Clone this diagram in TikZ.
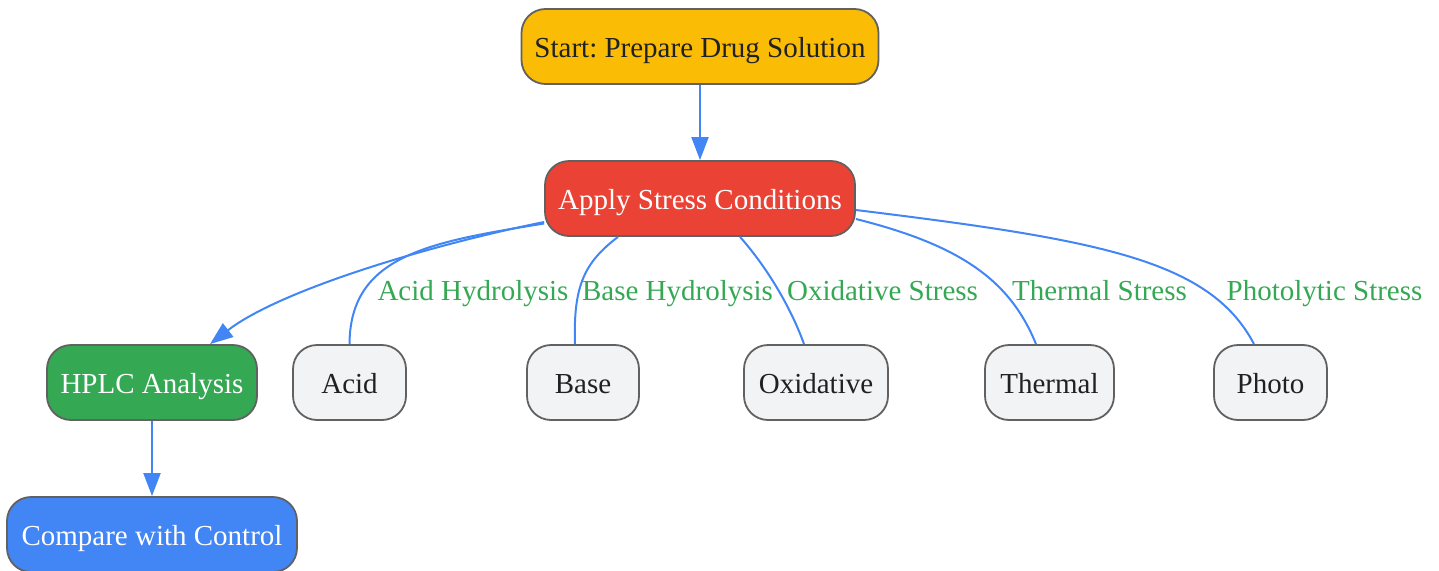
\documentclass[tikz,border=0pt]{standalone}
\usepackage{fontspec}
\setmainfont{Liberation Serif}
\frenchspacing
\usetikzlibrary{arrows.meta}
\definecolor{startfill}{HTML}{FBBC05}
\definecolor{stressfill}{HTML}{EA4335}
\definecolor{hplcfill}{HTML}{34A853}
\definecolor{comparefill}{HTML}{4285F4}
\definecolor{condfill}{HTML}{F1F3F4}
\definecolor{boxline}{HTML}{616161}
\definecolor{darktext}{HTML}{202124}
\definecolor{linkblue}{HTML}{4285F4}
\definecolor{lblgreen}{HTML}{34A853}
\begin{document}
\begin{tikzpicture}[x=1pt,y=-1pt,
  box/.style={draw=boxline, line width=1.8pt, rounded corners=24pt, minimum height=75pt,
    inner sep=0pt, text height=26pt, text depth=4.4pt, font=\fontsize{29}{34}\selectfont},
  cond/.style={box, fill=condfill, text=darktext},
  link/.style={draw=linkblue, line width=2pt},
  arr/.style={link, -{Triangle[length=23pt,width=17pt]}},
  lbl/.style={text=lblgreen, anchor=base, inner sep=0pt, font=\fontsize{29}{34}\selectfont}]
\useasboundingbox (0,0) rectangle (1439,570);
% main steps
\node[box, fill=startfill, text=darktext, minimum width=357pt] (start) at (700,46.5) {Start: Prepare Drug Solution};
\node[box, fill=stressfill, text=white, minimum width=310pt] (stress) at (700,198.5) {Apply Stress Conditions};
\node[box, fill=hplcfill, text=white, minimum width=210pt] (hplc) at (152,382.5) {HPLC Analysis};
\node[box, fill=comparefill, text=white, minimum width=290pt] (compare) at (152,534.5) {Compare with Control};
% stress conditions
\node[cond, minimum width=113pt] (acid) at (349.5,382.5) {Acid};
\node[cond, minimum width=112pt] (base) at (583,382.5) {Base};
\node[cond, minimum width=144pt] (oxid) at (816,382.5) {Oxidative};
\node[cond, minimum width=129pt] (thermal) at (1049.5,382.5) {Thermal};
\node[cond, minimum width=113pt] (photo) at (1270.5,382.5) {Photo};
% edge labels
\node[lbl] (lacid) at (473,300) {Acid Hydrolysis};
\node[lbl] (lbase) at (677.5,300) {Base Hydrolysis};
\node[lbl] (loxid) at (882.5,300) {Oxidative Stress};
\node[lbl] (lthermal) at (1099.5,300) {Thermal Stress};
\node[lbl] (lphoto) at (1324.5,300) {Photolytic Stress};
% connectors
\draw[arr] (start) -- (stress);
\draw[arr] ([yshift=-23.5pt]stress.west) .. controls (430,245) and (280,290) .. ([xshift=58pt]hplc.north);
\draw[link] ([yshift=-25pt]stress.west) .. controls (430,242) and (350,255) .. (acid.north);
\draw[link] ([xshift=-82pt]stress.south) .. controls (585,262) and (573,285) .. ([xshift=-8pt]base.north);
\draw[link] ([xshift=40pt]stress.south) .. controls (765,265) and (790,305) .. ([xshift=-12pt]oxid.north);
\draw[link] ([yshift=-20.5pt]stress.east) .. controls (960,245) and (1010,280) .. ([xshift=-13.5pt]thermal.north);
\draw[link] ([yshift=-11.5pt]stress.east) .. controls (1100,240) and (1210,260) .. ([xshift=-16.5pt]photo.north);
\draw[arr] (hplc) -- (compare);
\end{tikzpicture}
\end{document}
